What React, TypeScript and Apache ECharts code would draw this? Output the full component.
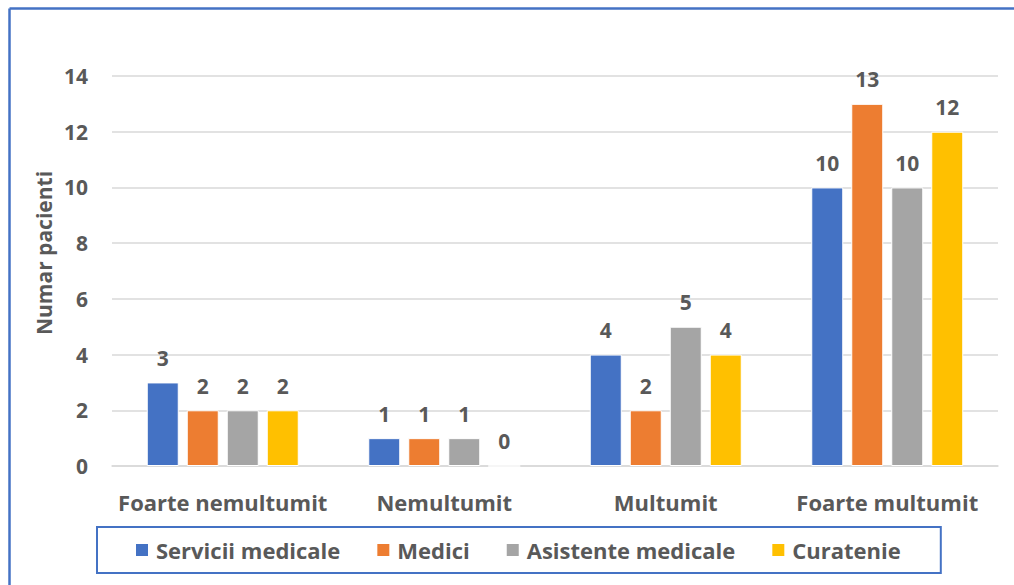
import React, { useEffect, useRef } from "react";
import * as echarts from "echarts";

const categories = ["Foarte nemultumit", "Nemultumit", "Multumit", "Foarte multumit"];
const seriesNames = ["Servicii medicale", "Medici", "Asistente medicale", "Curatenie"];
const serviciiMedicale = [3, 1, 4, 10];
const medici = [2, 1, 2, 13];
const asistenteMedicale = [2, 1, 5, 10];
const curatenie = [2, 0, 4, 12];
const colors = ["#4472C4", "#ED7D31", "#A5A5A5", "#FFC000"];
const yAxisTitle = "Numar pacienti";

const FONT = "'Open Sans', Lato, sans-serif";
const TEXT = "#595959";

export default function App() {
  const ref = useRef<HTMLDivElement>(null);
  useEffect(() => {
    if (!ref.current) return;
    document.body.style.margin = "0";
    document.body.style.overflow = "hidden";
    const chart = echarts.init(ref.current, null, { renderer: "svg" });
    const values = [serviciiMedicale, medici, asistenteMedicale, curatenie];
    chart.setOption({
      animation: false,
      textStyle: { fontFamily: FONT },
      grid: { left: 112, right: 16, top: 76, bottom: 119 },
      legend: {
        data: seriesNames,
        left: 97,
        top: 527,
        icon: "rect",
        itemWidth: 14,
        itemHeight: 14,
        itemGap: 35,
        padding: [12, 40, 12, 37],
        borderColor: "#4472C4",
        borderWidth: 2,
        textStyle: { color: TEXT, fontSize: 22, lineHeight: 22, fontWeight: "bold", fontFamily: FONT, padding: [0, 0, 0, 2] },
      },
      xAxis: {
        type: "category",
        data: categories,
        axisLine: { lineStyle: { color: "#D9D9D9", width: 1.5 } },
        axisTick: { show: false },
        axisLabel: { color: TEXT, fontSize: 22, lineHeight: 22, fontWeight: "bold", margin: 25, interval: 0, fontFamily: FONT },
      },
      yAxis: {
        type: "value",
        min: 0,
        max: 14,
        interval: 2,
        axisLine: { show: false },
        axisTick: { show: false },
        splitLine: { lineStyle: { color: "#D9D9D9", width: 1.5 } },
        axisLabel: { color: TEXT, fontSize: 21, fontWeight: "bold", margin: 24, fontFamily: FONT },
      },
      graphic: [
        {
          type: "line",
          shape: { x1: 9.5, y1: 8.5, x2: 9.5, y2: 585 },
          style: { stroke: "#4472C4", lineWidth: 2.5 },
          silent: true,
        },
        {
          type: "line",
          shape: { x1: 9.5, y1: 8.5, x2: 1014, y2: 8.5 },
          style: { stroke: "#4472C4", lineWidth: 2.5 },
          silent: true,
        },
        {
          type: "text",
          x: 44,
          y: 253,
          rotation: Math.PI / 2,
          style: {
            text: yAxisTitle,
            fill: TEXT,
            font: `bold 21px ${FONT}`,
            align: "center",
            verticalAlign: "middle",
          },
        },
      ],
      series: seriesNames.map((name, i) => ({
        name,
        type: "bar",
        data: values[i],
        barWidth: 32,
        barGap: "25%",
        itemStyle: { color: colors[i], borderColor: "#ffffff", borderWidth: 1 },
        label: {
          show: true,
          position: "top",
          distance: 14,
          color: TEXT,
          fontSize: 21,
          fontWeight: "bold",
          fontFamily: FONT,
        },
      })),
    });
    return () => chart.dispose();
  }, []);
  return <div ref={ref} style={{ width: 1014, height: 585, background: "#fff", overflow: "hidden" }} />;
}
